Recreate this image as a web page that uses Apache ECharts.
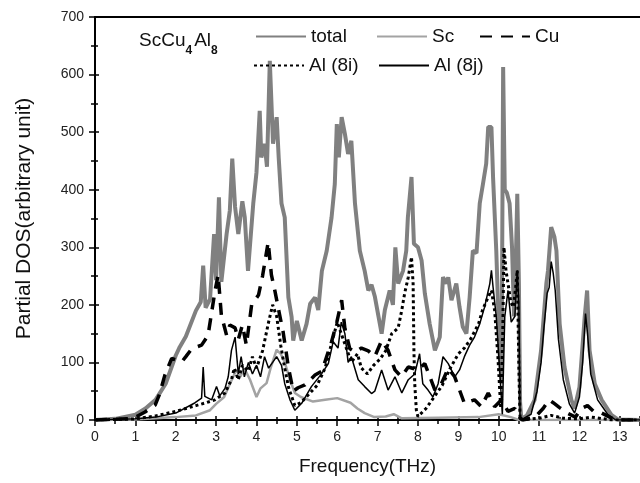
<!DOCTYPE html>
<html>
<head>
<meta charset="utf-8">
<script src="https://cdn.jsdelivr.net/npm/echarts@6/dist/echarts.min.js"></script>
<style>html,body{margin:0;padding:0;background:#fff;}#c{width:640px;height:483px;}</style>
</head>
<body>
<div id="c"></div>
<script>
const seriesNames = ['total', 'Sc', 'Cu', 'Al (8i)', 'Al (8j)'];
const xTicks = [0,1,2,3,4,5,6,7,8,9,10,11,12,13];
const yTicks = [0,100,200,300,400,500,600,700];

const totalData = [[0,0],[0.5,2],[1.0,9],[1.25,20],[1.5,35],[1.75,63],[2.0,112],[2.1,127],[2.25,145],[2.5,190],[2.62,205],[2.68,268],[2.74,195],[2.85,210],[2.95,323],[3.0,243],[3.07,387],[3.13,240],[3.26,323],[3.34,364],[3.4,454],[3.47,370],[3.55,323],[3.65,380],[3.71,352],[3.79,259],[3.92,376],[4.0,430],[4.08,537],[4.12,456],[4.2,480],[4.26,440],[4.33,624],[4.41,480],[4.5,526],[4.55,456],[4.62,376],[4.7,352],[4.79,213],[4.87,179],[4.91,138],[5.0,172],[5.12,138],[5.24,167],[5.33,202],[5.45,213],[5.53,191],[5.62,259],[5.74,294],[5.86,352],[5.94,410],[5.99,514],[6.04,456],[6.11,526],[6.19,497],[6.27,462],[6.35,485],[6.44,376],[6.56,294],[6.68,259],[6.77,225],[6.85,235],[6.93,215],[7.1,150],[7.18,191],[7.3,225],[7.38,200],[7.44,300],[7.51,237],[7.63,259],[7.71,294],[7.75,352],[7.84,422],[7.9,306],[8.0,300],[8.09,277],[8.17,220],[8.29,167],[8.42,121],[8.54,144],[8.62,248],[8.71,237],[8.75,248],[8.83,208],[8.95,237],[9.03,196],[9.11,162],[9.2,150],[9.28,213],[9.36,294],[9.45,290],[9.53,376],[9.61,410],[9.69,445],[9.74,509],[9.82,509],[9.86,422],[9.94,294],[10.02,121],[10.07,63],[10.11,613],[10.15,400],[10.2,395],[10.27,376],[10.33,300],[10.38,180],[10.42,260],[10.46,393],[10.5,240],[10.53,30],[10.56,2],[10.7,8],[10.89,35],[11.05,121],[11.18,237],[11.22,259],[11.3,335],[11.38,318],[11.43,294],[11.51,167],[11.63,92],[11.8,35],[11.88,20],[12.0,57],[12.13,179],[12.19,225],[12.25,121],[12.38,63],[12.55,35],[12.79,9],[12.95,1],[13.5,0]];

const scData = [[0,0],[1,1],[2,5],[2.5,8],[2.85,17],[3.0,28],[3.2,40],[3.35,64],[3.5,87],[3.6,75],[3.7,90],[3.84,70],[4.0,40],[4.1,55],[4.25,64],[4.35,90],[4.5,122],[4.6,115],[4.7,100],[4.83,70],[4.95,47],[5.1,40],[5.4,32],[5.7,35],[6.0,38],[6.33,30],[6.5,20],[6.68,12],[6.92,5],[7.2,6],[7.4,10],[7.6,3],[8.5,4],[9.5,5],[10.0,10],[10.3,5],[10.5,0],[13.5,0]];

const cuData = [[0,0],[0.8,2],[1.0,5],[1.24,14],[1.49,26],[1.6,45],[1.73,78],[1.9,107],[2.15,101],[2.25,110],[2.4,124],[2.64,130],[2.8,147],[2.97,223],[3.05,252],[3.13,182],[3.26,147],[3.34,165],[3.47,160],[3.55,140],[3.65,165],[3.75,130],[3.88,200],[4.05,217],[4.15,250],[4.29,309],[4.37,252],[4.46,223],[4.54,194],[4.66,153],[4.79,92],[4.91,50],[5.03,56],[5.2,61],[5.45,78],[5.62,85],[5.86,136],[5.99,170],[6.11,208],[6.19,159],[6.31,124],[6.44,118],[6.6,125],[6.77,120],[6.93,110],[7.1,138],[7.26,121],[7.43,87],[7.59,75],[7.76,92],[8.0,87],[8.17,98],[8.42,52],[8.58,63],[8.75,90],[8.91,75],[9.15,29],[9.4,35],[9.57,23],[9.74,47],[9.9,23],[10.07,35],[10.23,15],[10.4,20],[10.5,5],[10.6,0],[10.9,5],[11.1,20],[11.25,35],[11.35,30],[11.5,22],[11.7,12],[11.9,5],[12.05,20],[12.2,25],[12.35,15],[12.55,12],[12.75,5],[12.9,0],[13.5,0]];

const al8iData = [[0,0],[1,2],[1.5,7],[2.0,15],[2.5,25],[2.75,30],[2.97,35],[3.22,47],[3.38,70],[3.45,90],[3.55,70],[3.65,95],[3.8,85],[3.9,110],[4.0,90],[4.15,120],[4.3,170],[4.4,200],[4.5,180],[4.6,130],[4.7,90],[4.8,55],[4.95,25],[5.1,30],[5.3,45],[5.5,60],[5.7,90],[5.85,130],[6.0,170],[6.1,150],[6.2,130],[6.35,100],[6.5,115],[6.6,90],[6.75,80],[6.9,95],[7.05,105],[7.2,120],[7.35,150],[7.51,160],[7.6,191],[7.67,220],[7.76,248],[7.84,283],[7.88,237],[7.9,121],[7.92,63],[7.96,17],[8.0,6],[8.2,20],[8.4,40],[8.6,60],[8.8,90],[9.0,115],[9.15,125],[9.3,140],[9.5,167],[9.6,191],[9.74,214],[9.82,225],[9.9,190],[9.98,110],[10.05,20],[10.1,150],[10.13,300],[10.18,260],[10.23,237],[10.3,205],[10.36,196],[10.42,230],[10.46,260],[10.5,90],[10.53,0],[11.0,3],[11.3,8],[11.6,3],[12.0,2],[12.3,5],[12.8,0],[13.5,0]];

const al8jData = [[0,0],[1,2],[1.5,5],[2.0,12],[2.48,30],[2.64,38],[2.68,92],[2.72,41],[2.89,35],[3.01,58],[3.09,42],[3.22,55],[3.3,75],[3.38,121],[3.47,144],[3.55,80],[3.62,110],[3.7,75],[3.8,100],[3.9,80],[4.0,95],[4.1,75],[4.2,110],[4.3,90],[4.4,100],[4.5,110],[4.62,95],[4.7,63],[4.83,35],[4.95,17],[5.12,29],[5.36,58],[5.62,81],[5.78,98],[5.9,136],[6.02,125],[6.1,170],[6.19,150],[6.27,100],[6.35,110],[6.52,70],[6.68,58],[6.85,46],[6.93,50],[7.1,87],[7.26,52],[7.43,75],[7.6,47],[7.76,70],[7.92,80],[8.04,115],[8.12,63],[8.25,52],[8.37,40],[8.5,63],[8.62,110],[8.75,98],[8.91,75],[9.03,87],[9.15,110],[9.28,130],[9.4,144],[9.53,167],[9.65,196],[9.78,237],[9.82,260],[9.86,231],[9.94,179],[10.02,92],[10.09,10],[10.15,179],[10.23,225],[10.31,170],[10.4,180],[10.46,260],[10.5,200],[10.53,0],[10.6,2],[10.8,10],[10.95,50],[11.05,100],[11.12,160],[11.2,220],[11.25,230],[11.3,275],[11.35,255],[11.4,225],[11.48,140],[11.6,70],[11.75,28],[11.88,12],[12.0,40],[12.08,100],[12.15,185],[12.2,150],[12.28,80],[12.45,35],[12.7,10],[12.9,0],[13.5,0]];

const FONT = 'Liberation Sans, Arial, sans-serif';
const chart = echarts.init(document.getElementById('c'), null, {renderer: 'canvas'});

function baseX(extra) {
  return Object.assign({
    type: 'value', min: 0, max: 13.5, interval: 1,
    axisLine: {show: true, onZero: false, lineStyle: {color: '#000', width: 2}},
    splitLine: {show: false}
  }, extra);
}
function baseY(extra) {
  return Object.assign({
    type: 'value', min: 0, max: 700, interval: 100,
    axisLine: {show: true, onZero: false, lineStyle: {color: '#000', width: 2}},
    splitLine: {show: false}
  }, extra);
}
function legendItem(name, left, top) {
  return {
    data: [name], left: left, top: top, itemWidth: 50, itemHeight: 14, itemGap: 0,
    textStyle: {fontSize: 19, fontFamily: FONT, color: '#111'},
    itemStyle: {opacity: 0, borderWidth: 0},
    selectedMode: false, padding: 0
  };
}

chart.setOption({
  animation: false,
  backgroundColor: '#fff',
  title: {
    text: '{a|ScCu}{b|4}{a|Al}{b|8}',
    left: 139, top: 31, padding: 0,
    textStyle: {
      rich: {
        a: {fontSize: 19, fontFamily: FONT, color: '#111', fontWeight: 'normal', lineHeight: 24, verticalAlign: 'top'},
        b: {fontSize: 12, fontFamily: FONT, color: '#111', lineHeight: 24, padding: [14, 2, 0, 0], verticalAlign: 'top'}
      }
    }
  },
  legend: [
    legendItem('total', 255, 27),
    legendItem('Sc', 376, 27),
    legendItem('Cu', 479, 27),
    legendItem('Al (8i)', 253, 56),
    legendItem('Al (8j)', 378, 56)
  ],
  grid: {left: 95, right: 0, top: 17, bottom: 63, containLabel: false, outerBoundsMode: 'none'},
  xAxis: [
    baseX({
      position: 'bottom',
      name: 'Frequency(THz)', nameLocation: 'middle', nameGap: 37,
      nameTextStyle: {fontSize: 19, fontFamily: FONT, color: '#111'},
      axisTick: {show: true, inside: false, length: 6, lineStyle: {color: '#000', width: 1.5}},
      minorTick: {show: true, splitNumber: 2, length: 4, lineStyle: {color: '#000', width: 1.5}},
      axisLabel: {show: true, fontSize: 14, fontFamily: FONT, color: '#222', margin: 10, showMaxLabel: false,
        formatter: function (v) { return xTicks.indexOf(v) >= 0 ? String(v) : ''; }}
    }),
    baseX({
      position: 'bottom',
      axisTick: {show: true, inside: true, length: 4, lineStyle: {color: '#000', width: 1.5}},
      minorTick: {show: true, splitNumber: 2, length: 3, lineStyle: {color: '#000', width: 1.5}},
      axisLabel: {show: false}
    }),
    baseX({
      position: 'top',
      axisTick: {show: false}, axisLabel: {show: false}
    })
  ],
  yAxis: [
    baseY({
      position: 'left',
      name: 'Partial DOS(arbitrary unit)', nameLocation: 'middle', nameGap: 60,
      nameTextStyle: {fontSize: 21, fontFamily: FONT, color: '#111'},
      axisTick: {show: true, inside: false, length: 6, lineStyle: {color: '#000', width: 1.5}},
      minorTick: {show: true, splitNumber: 2, length: 4, lineStyle: {color: '#000', width: 1.5}},
      axisLabel: {show: true, fontSize: 14, fontFamily: FONT, color: '#222', margin: 11,
        formatter: function (v) { return yTicks.indexOf(v) >= 0 ? String(v) : ''; }}
    }),
    baseY({
      position: 'left',
      axisTick: {show: true, inside: true, length: 4, lineStyle: {color: '#000', width: 1.5}},
      minorTick: {show: true, splitNumber: 2, length: 3, lineStyle: {color: '#000', width: 1.5}},
      axisLabel: {show: false}
    })
  ],
  series: [
    {name: 'total', type: 'line', data: totalData, showSymbol: false, symbol: 'none',
      lineStyle: {color: '#808080', width: 4}, itemStyle: {color: '#808080'}, z: 2},
    {name: 'Sc', type: 'line', data: scData, showSymbol: false, symbol: 'none',
      lineStyle: {color: '#a3a3a3', width: 2.5}, itemStyle: {color: '#a3a3a3'}, z: 3},
    {name: 'Cu', type: 'line', data: cuData, showSymbol: false, symbol: 'none',
      lineStyle: {color: '#000', width: 3.5, type: [12, 9]}, itemStyle: {color: '#000'}, z: 4},
    {name: 'Al (8i)', type: 'line', data: al8iData, showSymbol: false, symbol: 'none',
      lineStyle: {color: '#000', width: 3, type: [3, 3]}, itemStyle: {color: '#000'}, z: 5},
    {name: 'Al (8j)', type: 'line', data: al8jData, showSymbol: false, symbol: 'none',
      lineStyle: {color: '#000', width: 1.5}, itemStyle: {color: '#000'}, z: 6}
  ]
});
</script>
</body>
</html>
